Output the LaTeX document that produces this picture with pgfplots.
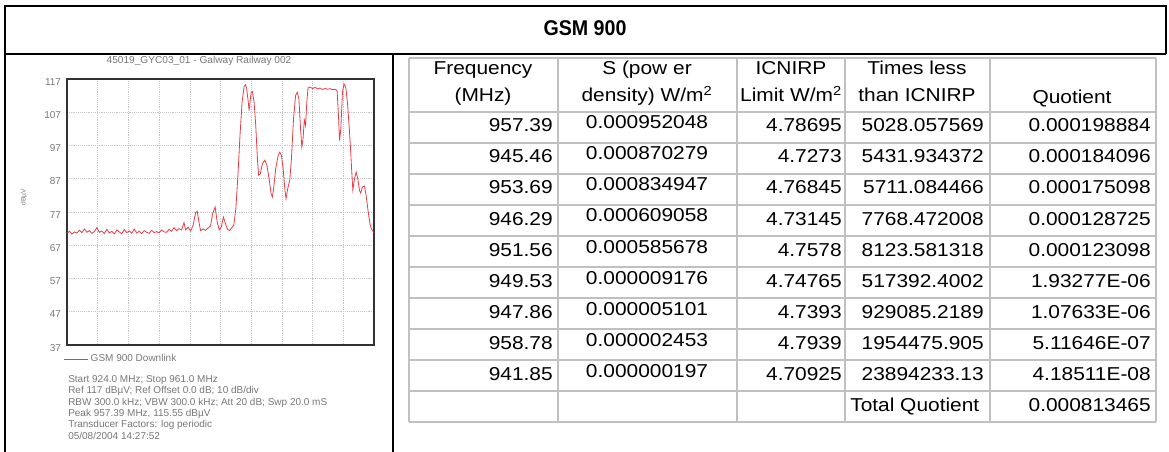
\documentclass[border=0pt]{standalone}
\usepackage{fontspec}
\setmainfont{Liberation Sans}
\newfontfamily\tabfont{Liberation Sans}[FakeStretch=1.12]
\newfontfamily\titfont{Liberation Sans}[FakeStretch=0.92]
\usepackage{pgfplots}
\pgfplotsset{compat=1.18}
\definecolor{tgray}{HTML}{C0C0C0}
\definecolor{trace}{RGB}{232,60,70}
\definecolor{ctext}{HTML}{777777}

\pgfplotstableread{
f db
924.0 70.6
924.3 71.2
924.6 70.4
924.9 71.0
925.2 70.7
925.5 71.5
925.8 70.8
926.1 71.9
926.4 70.9
926.7 71.4
927.0 70.6
927.3 71.1
927.6 72.3
927.9 70.9
928.2 71.3
928.5 70.5
928.8 71.8
929.1 70.7
929.4 71.2
929.7 70.4
930.0 71.6
930.3 71.0
930.6 70.5
930.9 71.7
931.2 70.8
931.5 71.3
931.8 70.6
932.1 71.9
932.4 70.7
932.7 71.2
933.0 70.5
933.3 71.4
933.6 70.9
933.9 70.6
934.2 71.5
934.5 70.8
934.8 71.1
935.1 70.7
935.4 71.6
935.7 71.0
936.0 70.9
936.3 71.8
936.6 71.2
936.9 72.3
937.2 71.4
937.5 72.0
937.8 71.6
938.1 73.8
938.3 71.6
938.6 72.4
938.9 71.3
939.2 73.0
939.5 76.8
939.7 77.2
939.9 74.0
940.1 71.4
940.4 71.9
940.7 71.5
941.0 72.2
941.3 72.8
941.55 76.5
941.85 78.5
942.1 74.0
942.35 71.6
942.6 72.5
942.85 75.5
943.1 73.5
943.35 71.8
943.6 71.4
943.85 72.3
944.1 73.0
944.35 78
944.6 88
944.85 100
945.1 110
945.35 114.8
945.5 115.3
945.65 114.2
945.85 110
945.95 107.5
946.05 110
946.2 113
946.35 113.2
946.55 110
946.75 103
946.95 93
947.1 88
947.3 88.5
947.55 91.5
947.85 92.6
948.1 91
948.35 87
948.6 82.5
948.75 81.5
948.9 84
949.15 90
949.45 94
949.65 95.0
949.85 94
950.05 90
950.25 84
950.4 81
950.6 84
950.85 86.6
951.05 93
951.3 105
951.55 112
951.75 113
951.95 111
952.15 102
952.3 96.6
952.45 99
952.6 104.7
952.75 103
952.9 110
953.05 114.3
953.3 114.6
953.6 114.1
953.9 114.5
954.2 114.0
954.5 114.3
954.8 113.8
955.1 114.2
955.4 113.9
955.7 114.1
956.0 113.8
956.3 113.9
956.55 113.5
956.7 107
956.85 98.5
957.0 102
957.2 113
957.39 115.55
957.6 114.5
957.8 110
958.0 103
958.15 97
958.3 90
958.45 83.6
958.65 87
958.85 89
959.05 87
959.25 83.5
959.4 82.7
959.6 84.5
959.85 84.8
960.05 82
960.3 77
960.55 73
960.75 71.6
961.0 70.8
}\spectrum

\begin{document}
\begin{tikzpicture}[x=0.75pt,y=-0.75pt]
\path[use as bounding box] (0,0) rectangle (1169,452);
% outer frame
\draw[line width=1.8pt] (5,452) -- (5,6) -- (1166,6) -- (1166,54);
\draw[line width=1.8pt] (5,54) -- (1166,54);
\draw[line width=1.8pt] (393,54) -- (393,452);
\node[font=\titfont\bfseries\fontsize{16}{18}\selectfont, inner sep=0pt, anchor=base] at (585,36) {GSM 900};

% table grid
\foreach \x in {409,558,737,845,990,1156}
  \draw[tgray,line width=1.5pt] (\x,58) -- (\x,422);
\foreach \y in {58,112,143,...,422}
  \draw[tgray,line width=1.5pt] (409,\y) -- (1156,\y);

% header and cells
\begin{scope}[every node/.style={font=\tabfont\fontsize{14}{16}\selectfont, inner sep=0pt}]
\node[anchor=base] at (483,75) {Frequency};
\node[anchor=base] at (483,102) {(MHz)};
\node[anchor=base] at (647,75) {S (pow er};
\node[anchor=base] at (647,102) {density) W/m\textsuperscript{2}};
\node[anchor=base] at (791,75) {ICNIRP};
\node[anchor=base] at (791,102) {Limit W/m\textsuperscript{2}};
\node[anchor=base] at (917,75) {Times less};
\node[anchor=base] at (917,102) {than ICNIRP};
\node[anchor=base] at (1072,104) {Quotient};
\foreach \i/\a/\b/\c/\d/\e in {
 0/957.39/0.000952048/4.78695/5028.057569/0.000198884,
 1/945.46/0.000870279/4.7273/5431.934372/0.000184096,
 2/953.69/0.000834947/4.76845/5711.084466/0.000175098,
 3/946.29/0.000609058/4.73145/7768.472008/0.000128725,
 4/951.56/0.000585678/4.7578/8123.581318/0.000123098,
 5/949.53/0.000009176/4.74765/517392.4002/1.93277E-06,
 6/947.86/0.000005101/4.7393/929085.2189/1.07633E-06,
 7/958.78/0.000002453/4.7939/1954475.905/5.11646E-07,
 8/941.85/0.000000197/4.70925/23894233.13/4.18511E-08}{
  \pgfmathsetmacro\yb{132+31*\i}
  \pgfmathsetmacro\yc{129+31*\i}
  \node[anchor=base east] at (553,\yb) {\a};
  \node[anchor=base] at (647,\yc) {\b};
  \node[anchor=base east] at (842,\yb) {\c};
  \node[anchor=base east] at (984,\yb) {\d};
  \node[anchor=base east] at (1151,\yb) {\e};
}
\node[anchor=base west] at (850,411) {Total Quotient};
\node[anchor=base east] at (1151,411) {0.000813465};
\end{scope}

% spectrum chart
\begin{axis}[
  at={(50.25pt,-258.75pt)}, anchor=south west,
  scale only axis, width=230.25pt, height=199.5pt,
  xmin=924, xmax=961, ymin=37, ymax=117,
  xtick={927.7,931.4,935.1,938.8,942.5,946.2,949.9,953.6,957.3},
  xticklabels={},
  ytick={37,47,...,117},
  yticklabels={37,47,57,67,77,87,97,107,117},
  major tick length=0pt,
  grid=major,
  grid style={densely dotted, black!22},
  axis line style={black!80, line width=1.1pt},
  yticklabel style={font=\fontsize{7.5}{8}\selectfont, text=ctext, yshift=-2pt, xshift=-1pt},
  ylabel={dBµV},
  every axis y label/.style={at={(rel axis cs:-0.14,0.556)}, rotate=90, anchor=center,
     font=\fontsize{5}{6}\selectfont, text=ctext},
  title={45019\_GYC03\_01 - Galway Railway 002},
  title style={at={(0.43,1)}, anchor=south, inner sep=0pt, yshift=4pt,
     font=\fontsize{7.6}{8}\selectfont, text=ctext},
  legend style={at={(0,0)}, anchor=north west, yshift=-5pt, xshift=-3pt, draw=none, fill=none,
     font=\fontsize{7.5}{8}\selectfont, text=ctext, inner sep=0pt,
     /tikz/every even column/.append style={column sep=4pt}},
  legend image code/.code={\draw[#1] (0pt,0pt) -- (18pt,0pt);},
  legend cell align=left,
]
\addplot[trace, line width=0.6pt] table[x=f, y=db] {\spectrum};
\addlegendentry{GSM 900 Downlink}
\end{axis}

\node[anchor=north west, align=left, inner sep=0pt, text=ctext,
  font=\fontsize{7.5}{8.55}\selectfont] at (68,375)
 {Start 924.0 MHz; Stop 961.0 MHz\\
  Ref 117 dBµV; Ref Offset 0.0 dB; 10 dB/div\\
  RBW 300.0 kHz; VBW 300.0 kHz; Att 20 dB; Swp 20.0 mS\\
  Peak 957.39 MHz, 115.55 dBµV\\
  Transducer Factors: log periodic\\
  05/08/2004 14:27:52};
\end{tikzpicture}
\end{document}
